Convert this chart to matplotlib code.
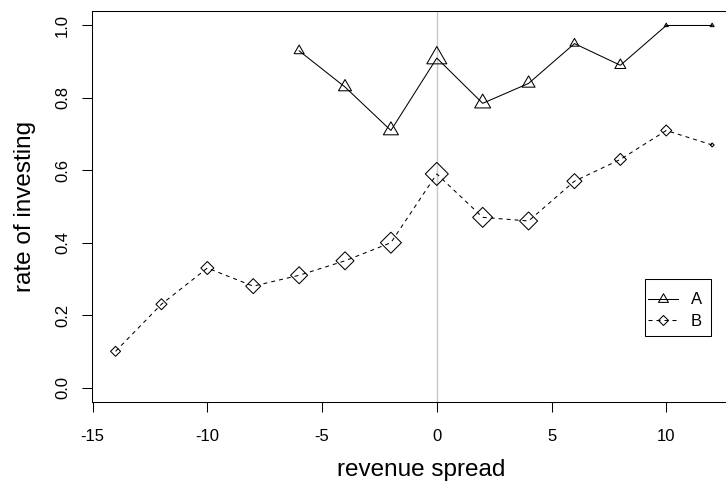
import numpy as np
import matplotlib
matplotlib.use('Agg')
import matplotlib.pyplot as plt
from matplotlib.path import Path
from matplotlib.lines import Line2D
from matplotlib.patches import Rectangle

plt.rcParams['font.family'] = ['Liberation Sans', 'DejaVu Sans']

# data
x_a = [-6, -4, -2, 0, 2, 4, 6, 8, 10, 12]
rate_a = [0.93, 0.83, 0.71, 0.91, 0.785, 0.84, 0.95, 0.89, 1.0, 1.0]
x_b = [-14, -12, -10, -8, -6, -4, -2, 0, 2, 4, 6, 8, 10, 12]
rate_b = [0.10, 0.23, 0.33, 0.28, 0.31, 0.35, 0.40, 0.59, 0.47, 0.46, 0.57, 0.63, 0.71, 0.67]
# marker widths (pixels) per point, as in the picture
size_a = [10, 13, 15, 20, 16, 13, 9, 11, 4, 4]
size_b = [10, 11, 13, 15, 17, 18, 21, 23, 20, 18, 15, 12, 11, 4]

xticks = [-15, -10, -5, 0, 5, 10]
yticks = [0.0, 0.2, 0.4, 0.6, 0.8, 1.0]

# R-like open triangle (pch=2) and diamond (pch=5)
tri = Path([(0, 1.555), (1.347, -0.778), (-1.347, -0.778), (0, 1.555)],
           [Path.MOVETO, Path.LINETO, Path.LINETO, Path.CLOSEPOLY])
dia = Path([(1, 0), (0, 1), (-1, 0), (0, -1), (1, 0)],
           [Path.MOVETO, Path.LINETO, Path.LINETO, Path.LINETO, Path.CLOSEPOLY])

px = 100 / 72.0  # pixels per point
tri_ms = np.array(size_a) / (0.866 * px)
dia_ms = np.array(size_b) / px

fig = plt.figure(figsize=(7.26, 4.83), dpi=100)
ax = fig.add_axes([91.7 / 726, 81 / 483, (736 - 91.7) / 726, 391 / 483])

ax.axvline(0, color='#c8c8c8', lw=1.0, zorder=1)

ax.plot(x_a, rate_a, color='black', lw=0.75, zorder=2)
ax.scatter(x_a, rate_a, s=tri_ms ** 2, marker=tri, facecolors='none',
           edgecolors='black', linewidths=0.75, zorder=3)

lb, = ax.plot(x_b, rate_b, color='black', lw=0.75, zorder=2)
lb.set_dashes((3.84, 3.84))
ax.scatter(x_b, rate_b, s=dia_ms ** 2, marker=dia, facecolors='none',
           edgecolors='black', linewidths=0.75, zorder=3)

ax.set_xlim(-15.04, 13.04)
ax.set_ylim(-0.04, 1.04)
ax.set_xticks(xticks)
ax.set_xticklabels([str(t) for t in xticks])
ax.set_yticks(yticks)
ax.set_yticklabels(['%.1f' % t for t in yticks], rotation=90, va='center')
ax.tick_params(axis='both', direction='out', length=7.5, width=0.75,
               labelsize=12, colors='black')
ax.tick_params(axis='x', pad=12)
ax.tick_params(axis='y', pad=8)
for sp in ax.spines.values():
    sp.set_linewidth(0.75)
    sp.set_color('black')

ax.set_xlabel('revenue spread', fontsize=17.5)
ax.set_ylabel('rate of investing', fontsize=17.5, labelpad=14)
ax.xaxis.set_label_coords((421 - 91.7) / (736 - 91.7), -57 / 391.0)

# legend box
ax.add_patch(Rectangle((645 / 726, 1 - 336 / 483), 66 / 726, 57 / 483,
                       transform=fig.transFigure, facecolor='white',
                       edgecolor='black', lw=0.75, zorder=5, clip_on=False))

h_a = Line2D([], [], color='black', lw=0.75, marker=tri, markersize=10 / (0.866 * px),
             markerfacecolor='none', markeredgewidth=0.75)
h_b = Line2D([], [], color='black', lw=0.75, marker=dia, markersize=10 / px,
             markerfacecolor='none', markeredgewidth=0.75, dashes=(3.84, 3.84))
leg = ax.legend([h_a, h_b], ['A', 'B'], loc='upper left',
                bbox_to_anchor=(648 / 726, 1 - 292.5 / 483), bbox_transform=fig.transFigure,
                borderaxespad=0, fontsize=12, handlelength=1.8, handletextpad=0.78,
                borderpad=0, labelspacing=0.36, frameon=False)
leg.set_zorder(6)

fig.savefig('out.png', dpi=100)
